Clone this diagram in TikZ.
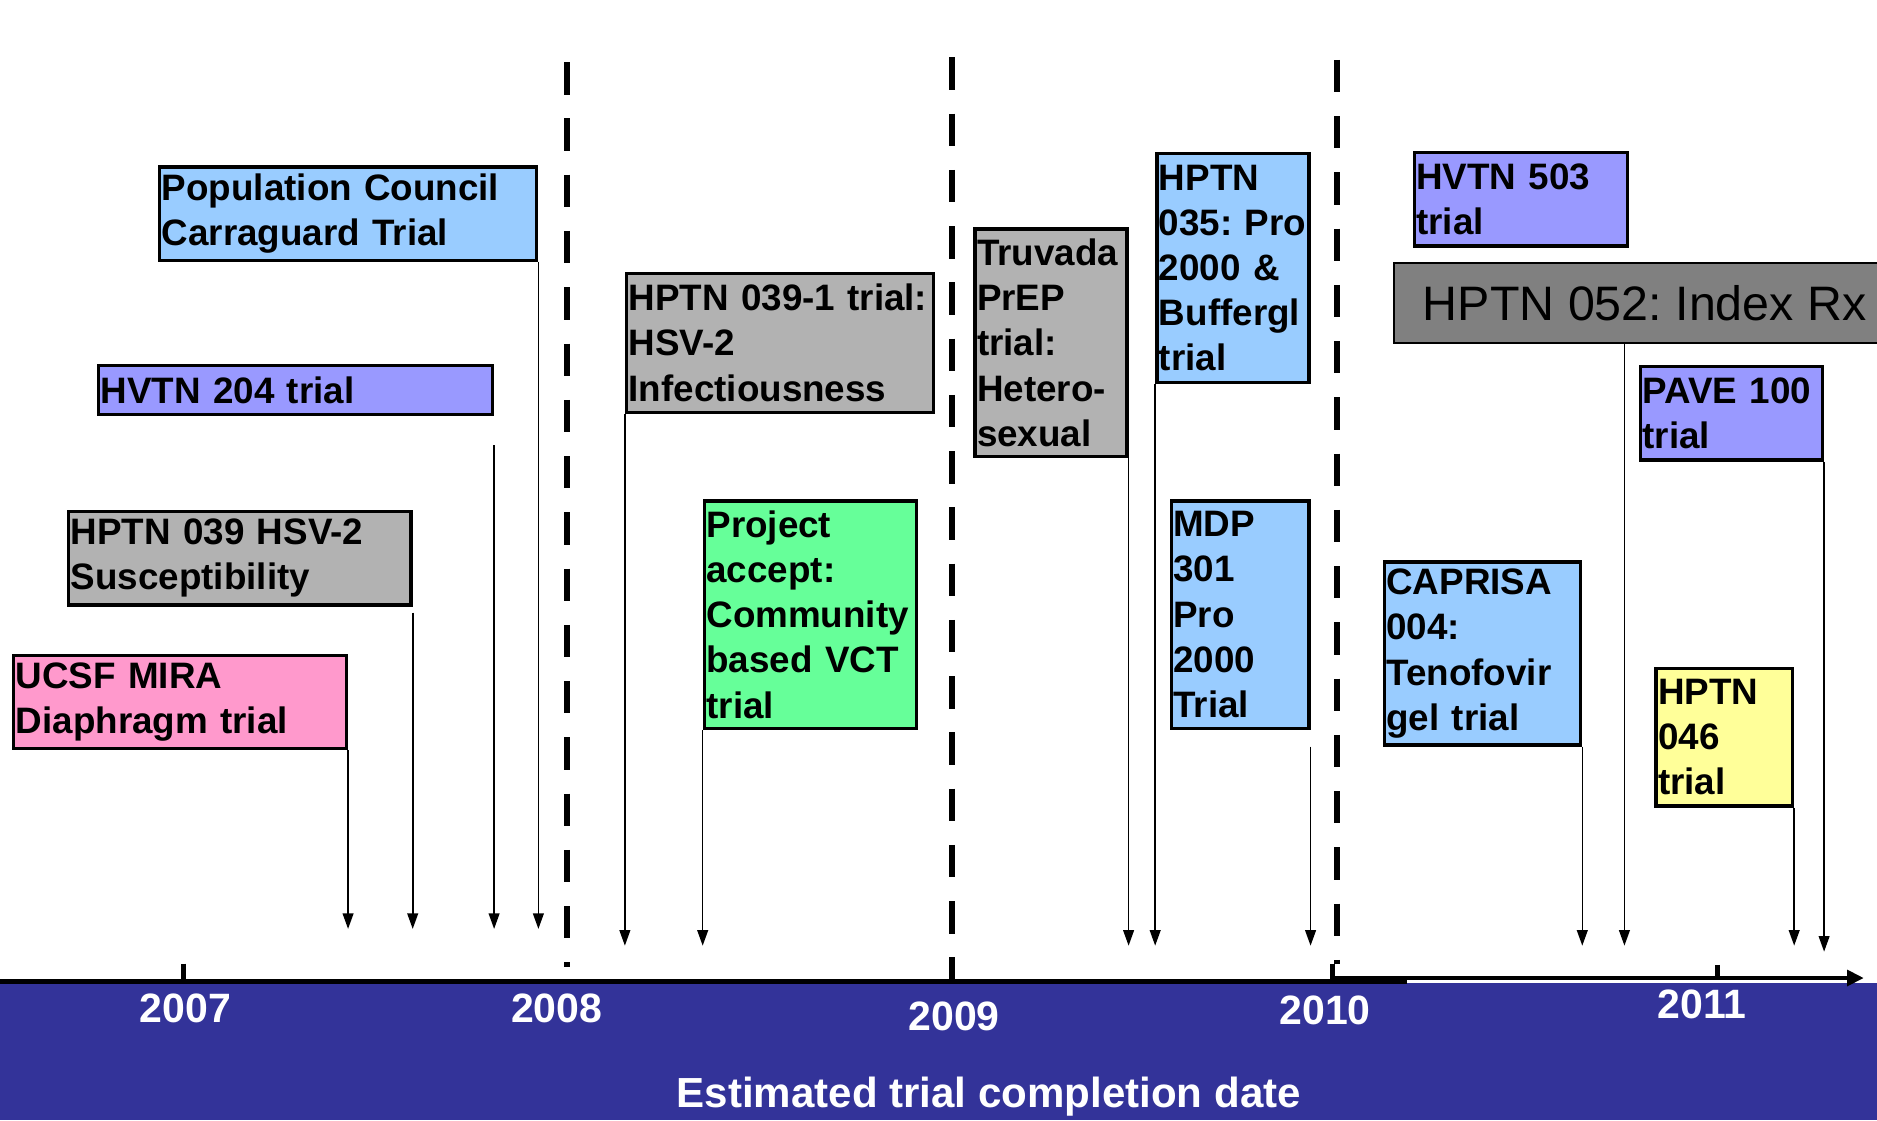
\documentclass[tikz,border=0pt]{standalone}
\usepackage{fontspec}
\setmainfont{Liberation Sans}
\usetikzlibrary{arrows.meta}
\definecolor{micBlue}{HTML}{99CCFF}
\definecolor{vacViolet}{HTML}{9999FF}
\definecolor{hsvGray}{HTML}{B2B2B2}
\definecolor{miraPink}{HTML}{FF99CC}
\definecolor{vctGreen}{HTML}{66FF99}
\definecolor{hptnYellow}{HTML}{FFFF99}
\definecolor{idxGray}{HTML}{808080}
\definecolor{bandBlue}{HTML}{333399}
\frenchspacing

\begin{document}
\begin{tikzpicture}[x=0.02cm, y=-0.02cm,
    trial/.style={draw, line width=1.6pt, anchor=north west, inner xsep=1pt,
        inner ysep=0pt, align=left, font=\bfseries\fontsize{17.5}{21.5}\selectfont},
    finish/.style={line width=0.75pt, -{Triangle[length=0.26cm, width=0.18cm]}},
    yearline/.style={line width=0.1cm, dash pattern=on 0.54cm off 0.4cm},
    axis/.style={line width=0.08cm},
    year/.style={text=white, font=\bfseries\fontsize{19.5}{23}\selectfont}]
    \useasboundingbox (0,0) rectangle (1568,936);
    \fill[bandBlue] (0,821) rectangle (1568,936);

    \draw[yearline] (474,52) -- (474,808);
    \draw[yearline] (795,48) -- (795,818);
    \draw[yearline] (1117,50) -- (1117,805);

    \node[trial, fill=micBlue, text width=6.23cm, minimum height=1.56cm] (carraguard)
        at (132,138) {Population Council\\Carraguard Trial};
    \node[trial, fill=vacViolet, text width=6.51cm, minimum height=0.82cm] (hvtn204)
        at (81,304) {HVTN 204 trial};
    \node[trial, fill=hsvGray, text width=5.65cm, minimum height=1.56cm] (hptn039)
        at (56,426) {HPTN 039 HSV-2\\Susceptibility};
    \node[trial, fill=miraPink, text width=5.49cm, minimum height=1.56cm] (mira)
        at (10,546) {UCSF MIRA\\Diaphragm trial};
    \node[trial, fill=hsvGray, text width=5.06cm, minimum height=2.32cm] (hptn0391)
        at (522,227) {HPTN 039-1 trial:\\HSV-2\\Infectiousness};
    \node[trial, fill=vctGreen, text width=3.47cm, minimum height=3.8cm] (accept)
        at (587,417) {Project\\accept:\\Community\\based VCT\\trial};
    \node[trial, fill=hsvGray, text width=2.47cm, minimum height=3.8cm] (truvada)
        at (813,190) {Truvada\\PrEP\\trial:\\Hetero-\\sexual};
    \node[trial, fill=micBlue, text width=2.47cm, minimum height=3.82cm] (hptn035)
        at (965,127) {HPTN\\035: Pro\\2000 \&\\Buffergl\\trial};
    \node[trial, fill=micBlue, text width=2.23cm, minimum height=3.8cm] (mdp301)
        at (977,417) {MDP\\301\\Pro\\2000\\Trial};
    \node[trial, fill=vacViolet, text width=3.49cm, minimum height=1.56cm] (hvtn503)
        at (1180,126) {HVTN 503\\trial};
    \node[draw, line width=0.8pt, fill=idxGray, anchor=north west, inner xsep=0.48cm,
        inner ysep=0pt, minimum height=1.34cm, font=\fontsize{23}{27}\selectfont] (hptn052)
        at (1164,219) {HPTN 052: Index Rx};
    \node[trial, fill=vacViolet, text width=2.97cm, minimum height=1.56cm] (pave)
        at (1369,305) {PAVE 100\\trial};
    \node[trial, fill=micBlue, text width=3.21cm, minimum height=3.06cm] (caprisa)
        at (1155,468) {CAPRISA\\004:\\Tenofovir\\gel trial};
    \node[trial, fill=hptnYellow, text width=2.21cm, minimum height=2.3cm] (hptn046)
        at (1382,557) {HPTN\\046\\trial};

    \coordinate (stopHigh) at (0,776);
    \coordinate (stopLow) at (0,790);
    \coordinate (stopPave) at (0,795);
    \coordinate (idxDrop) at (1357,790);

    \foreach \n in {carraguard, mira}
        \draw[finish] (\n.south east) -- (\n.south east |- stopHigh);
    \draw[finish, shorten <=0.48cm] (hvtn204.south east) -- (hvtn204.south east |- stopHigh);
    \draw[finish, shorten <=0.1cm] (hptn039.south east) -- (hptn039.south east |- stopHigh);
    \foreach \n in {hptn0391, accept, hptn035}
        \draw[finish] (\n.south west) -- (\n.south west |- stopLow);
    \foreach \n in {truvada, caprisa, hptn046}
        \draw[finish] (\n.south east) -- (\n.south east |- stopLow);
    \draw[finish, shorten <=0.28cm] (mdp301.south east) -- (mdp301.south east |- stopLow);
    \draw[finish] (hptn052.south west -| idxDrop) -- (idxDrop);
    \draw[finish] (pave.south east) -- (pave.south east |- stopPave);

    \draw[axis] (0,820) -- (1175,820);
    \draw[axis, -{Triangle[length=0.28cm, width=0.26cm]}] (1113,817) -- (1557,817);
    \draw[axis] (153,805) -- (153,820);
    \draw[axis] (1113,805) -- (1113,820);
    \draw[axis] (1435,806) -- (1435,817);

    \node[year] (y2007) at (155,842) {2007};
    \node[year] (y2008) at (465,842) {2008};
    \node[year] (y2009) at (797,849) {2009};
    \node[year] (y2010) at (1107,844) {2010};
    \node[year] (y2011) at (1422,839) {2011};
    \node[text=white, font=\bfseries\fontsize{20}{24}\selectfont] (caption)
        at (826,916) {Estimated trial completion date};
\end{tikzpicture}
\end{document}
